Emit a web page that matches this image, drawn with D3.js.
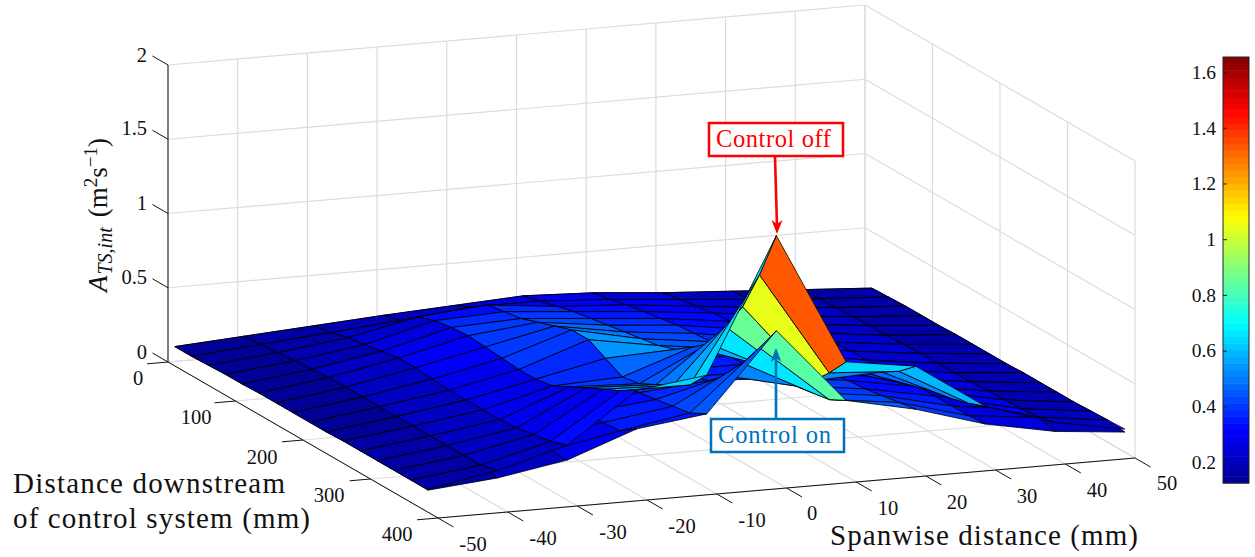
<!DOCTYPE html>
<html>
<head>
<meta charset="utf-8">
<script src="https://cdn.jsdelivr.net/npm/d3@7"></script>
<style>
  html, body { margin: 0; padding: 0; background: #fff; }
  svg { display: block; }
  text { font-family: "Liberation Serif", serif; fill: #111; }
  .grid { stroke: #dcdcdc; stroke-width: 1.2; fill: none; }
  .axis { stroke: #111; stroke-width: 1; fill: none; }
  .tick-label { font-size: 20.5px; text-anchor: middle; }
</style>
</head>
<body>
<svg width="1255" height="557"></svg>
<script>
var spanwise = [-50, -40, -30, -20, -10, 0, 10, 20, 30, 40, 50];
var downstream = [10, 35, 60, 85, 110, 135, 160, 185, 210, 235, 260, 285, 310, 335, 360, 385];

var xTicks = [-50, -40, -30, -20, -10, 0, 10, 20, 30, 40, 50];
var yTicks = [0, 100, 200, 300, 400];
var zTicks = [0, 0.5, 1, 1.5, 2];
var zTickLabels = ["0", "0.5", "1", "1.5", "2"];
var colorTicks = [0.2, 0.4, 0.6, 0.8, 1, 1.2, 1.4, 1.6];

// rows run along downstream, columns along spanwise
var controlOff = [
  [.13, .16, .19, .22, .245, .27, .25, .21, .18, .15, .12],
  [.13, .17, .21, .25, .30, .30, .27, .23, .19, .155, .125],
  [.135, .18, .24, .34, .38, .33, .30, .25, .20, .16, .13],
  [.14, .19, .26, .38, .40, .36, .32, .27, .21, .165, .13],
  [.14, .20, .28, .40, .42, .38, .34, .28, .22, .17, .13],
  [.145, .21, .30, .41, .46, .40, .36, .29, .225, .17, .135],
  [.145, .21, .30, .40, .50, .42, .37, .30, .23, .175, .135],
  [.145, .21, .29, .39, .54, .44, .38, .31, .235, .18, .135],
  [.145, .21, .28, .38, .54, .46, .40, .32, .24, .18, .135],
  [.145, .21, .28, .38, .48, .50, .42, .33, .245, .18, .14],
  [.15, .21, .28, .40, .42, .58, .42, .35, .25, .185, .14],
  [.15, .21, .28, .46, .44, .67, .44, .40, .26, .19, .14],
  [.15, .21, .29, .52, .50, .85, .46, .46, .29, .195, .14],
  [.15, .21, .31, .575, .56, 1.05, .51, .53, .31, .20, .145],
  [.15, .21, .33, .63, .63, 1.33, .63, .60, .345, .21, .15],
  [.155, .24, .37, .70, .76, 1.66, .77, .70, .39, .24, .155]
];

var controlOn = [
  [.13, .16, .19, .22, .245, .27, .25, .21, .18, .15, .12],
  [.13, .17, .21, .25, .30, .30, .27, .23, .19, .155, .125],
  [.135, .18, .24, .26, .30, .30, .28, .235, .20, .16, .13],
  [.14, .19, .26, .28, .32, .32, .30, .25, .21, .165, .13],
  [.14, .20, .28, .30, .33, .32, .31, .26, .22, .17, .13],
  [.145, .21, .30, .32, .34, .33, .32, .27, .225, .17, .135],
  [.145, .21, .30, .33, .35, .34, .33, .28, .23, .175, .135],
  [.145, .21, .29, .33, .36, .35, .34, .29, .235, .18, .135],
  [.145, .21, .28, .33, .36, .35, .35, .30, .24, .18, .135],
  [.145, .21, .28, .33, .36, .36, .36, .31, .245, .18, .14],
  [.15, .21, .28, .33, .37, .38, .38, .32, .25, .185, .14],
  [.15, .21, .27, .34, .38, .42, .40, .34, .26, .19, .14],
  [.15, .21, .28, .35, .40, .52, .41, .35, .26, .195, .14],
  [.15, .21, .28, .35, .42, .67, .43, .37, .26, .20, .145],
  [.15, .21, .27, .36, .44, .84, .45, .39, .26, .21, .15],
  [.148, .19, .27, .44, .50, 1.02, .51, .41, .27, .18, .135]
];

var svg = d3.select("svg");

// orthographic view: each data axis adds a fixed screen offset
var xToH = d3.scaleLinear().domain([-50, 50]).range([0, 697]),
    xToV = d3.scaleLinear().domain([-50, 50]).range([0, -60]),
    yToH = d3.scaleLinear().domain([0, 400]).range([0, 270]),
    yToV = d3.scaleLinear().domain([0, 400]).range([0, 156]),
    zToV = d3.scaleLinear().domain([0, 2]).range([0, -297]);

function project(x, y, z) {
  return [168 + xToH(x) + yToH(y), 362 + xToV(x) + yToV(y) + zToV(z)];
}

function segment(a, b) {
  return d3.line()([a, b]);
}

// jet colormap cut into 64 levels, same as the figure
var jetStops = d3.scaleLinear()
    .domain([0, 0.125, 0.375, 0.625, 0.875, 1])
    .range(["#00008f", "#0000ff", "#00ffff", "#ffff00", "#ff0000", "#800000"]);
var colorLimits = [0.125, 1.654];
var levels = d3.range(64).map(function(i) { return jetStops((i + 0.5) / 64); });
var color = d3.scaleQuantize().domain(colorLimits).range(levels);

// back walls and floor grid
var grid = svg.append("g").attr("class", "grid");
xTicks.forEach(function(x) {
  grid.append("path").attr("d", segment(project(x, 0, 0), project(x, 400, 0)));
  grid.append("path").attr("d", segment(project(x, 0, 0), project(x, 0, 2)));
});
yTicks.forEach(function(y) {
  grid.append("path").attr("d", segment(project(-50, y, 0), project(50, y, 0)));
  grid.append("path").attr("d", segment(project(50, y, 0), project(50, y, 2)));
});
zTicks.forEach(function(z) {
  grid.append("path").attr("d", segment(project(-50, 0, z), project(50, 0, z)));
  grid.append("path").attr("d", segment(project(50, 0, z), project(50, 400, z)));
});

// axis lines with ticks
var axes = svg.append("g").attr("class", "axis");
axes.append("path").attr("d", segment(project(-50, 0, 0), project(-50, 400, 0)));
axes.append("path").attr("d", segment(project(-50, 400, 0), project(50, 400, 0)));
axes.append("path").attr("d", segment(project(-50, 0, 0), project(-50, 0, 2)));

xTicks.forEach(function(x) {
  axes.append("path").attr("d", segment(project(x, 400, 0), project(x, 423, 0)));
});
yTicks.forEach(function(y) {
  axes.append("path").attr("d", segment(project(-50, y, 0), project(-53, y, 0)));
});
zTicks.forEach(function(z) {
  axes.append("path").attr("d", segment(project(-50, 0, z), project(-50, -23, z)));
});

var xLabelSpots = [[473, 544], [543, 538], [613, 532], [682, 526], [752, 520], [812, 513], [888, 508], [957, 502], [1027, 496], [1097, 490], [1167, 483]];
var yLabelSpots = [[138, 378], [196, 417], [262, 457], [329, 495], [397, 534]];
var zLabelSpots = [[147, 352], [147, 277], [147, 203], [147, 128], [147, 55]];

xTicks.forEach(function(x, i) {
  svg.append("text").attr("class", "tick-label").attr("x", xLabelSpots[i][0]).attr("y", xLabelSpots[i][1])
      .attr("dy", "0.35em").text(x);
});
yTicks.forEach(function(y, i) {
  svg.append("text").attr("class", "tick-label").attr("x", yLabelSpots[i][0]).attr("y", yLabelSpots[i][1])
      .attr("dy", "0.35em").text(y);
});
zTickLabels.forEach(function(s, i) {
  svg.append("text").attr("class", "tick-label").attr("x", zLabelSpots[i][0]).attr("y", zLabelSpots[i][1])
      .attr("dy", "0.35em").style("text-anchor", "end").text(s);
});

// surfaces: paint cells from the back row forward, far side first,
// the lower sheet of a cell before the upper one
var cells = svg.append("g").attr("class", "surface");

function addCell(matrix, r, c) {
  var corners = [[r, c], [r, c + 1], [r + 1, c + 1], [r + 1, c]].map(function(p) {
    return project(spanwise[p[1]], downstream[p[0]], matrix[p[0]][p[1]]);
  });
  cells.append("path")
      .attr("d", d3.line()(corners) + "Z")
      .attr("fill", color(matrix[r][c]))
      .attr("stroke", "#000")
      .attr("stroke-width", 0.8)
      .attr("stroke-linejoin", "round");
}

function cellMean(matrix, r, c) {
  return d3.mean([matrix[r][c], matrix[r][c + 1], matrix[r + 1][c], matrix[r + 1][c + 1]]);
}

for (var r = 0; r < downstream.length - 1; r++) {
  for (var c = spanwise.length - 2; c >= 0; c--) {
    if (cellMean(controlOff, r, c) < cellMean(controlOn, r, c)) {
      addCell(controlOff, r, c);
      addCell(controlOn, r, c);
    } else {
      addCell(controlOn, r, c);
      addCell(controlOff, r, c);
    }
  }
}

// colorbar
var cbY = d3.scaleLinear().domain(colorLimits).range([483, 57]);
var cb = svg.append("g");
levels.forEach(function(col, i) {
  var lo = colorLimits[0] + (colorLimits[1] - colorLimits[0]) * i / 64,
      hi = colorLimits[0] + (colorLimits[1] - colorLimits[0]) * (i + 1) / 64;
  cb.append("rect")
      .attr("x", 1223).attr("width", 26)
      .attr("y", cbY(hi)).attr("height", cbY(lo) - cbY(hi) + 0.5)
      .attr("fill", col);
});
cb.append("rect").attr("x", 1223).attr("y", 57).attr("width", 26).attr("height", 426)
    .attr("fill", "none").attr("stroke", "#222").attr("stroke-width", 1);
var cbAxis = cb.append("g").attr("transform", "translate(1223,0)")
    .call(d3.axisLeft(cbY).tickValues(colorTicks).tickSizeInner(-4).tickSizeOuter(0)
      .tickPadding(7).tickFormat(function(d) { return d; }));
cbAxis.select(".domain").remove();
cbAxis.selectAll("text").style("font-family", '"Liberation Serif", serif').style("font-size", "19.5px").attr("fill", "#111");
cbAxis.selectAll("line").attr("stroke", "#222");

// axis titles
function title(s, x, y, len) {
  svg.append("text").attr("x", x).attr("y", y).attr("textLength", len).attr("lengthAdjust", "spacing")
      .style("font-size", "29px").text(s);
}
title("Distance downstream", 13, 493, 272);
title("of control system (mm)", 13, 528, 297);
title("Spanwise distance (mm)", 830, 545, 308);

var zTitle = svg.append("text")
    .attr("transform", "translate(107,292) rotate(-90)")
    .style("font-size", "27px");
zTitle.append("tspan").style("font-style", "italic").text("A");
zTitle.append("tspan").style("font-style", "italic").style("font-size", "20px").attr("dy", 5).attr("dx", 1).text("TS,int");
zTitle.append("tspan").attr("dy", -5).attr("dx", 10).text("(m");
zTitle.append("tspan").style("font-size", "19px").attr("dy", -10).text("2");
zTitle.append("tspan").attr("dy", 10).text("s");
zTitle.append("tspan").style("font-size", "19px").attr("dy", -10).text("\u22121");
zTitle.append("tspan").attr("dy", 10).text(")");

// annotations
function callout(label, col, box, tail, tip, len) {
  svg.append("rect").attr("x", box[0]).attr("y", box[1]).attr("width", box[2]).attr("height", box[3])
      .attr("fill", "#fff").attr("stroke", col).attr("stroke-width", 2.5);
  svg.append("text").attr("x", box[0] + 7).attr("y", box[1] + 24).attr("textLength", len).attr("lengthAdjust", "spacing")
      .style("font-size", "24.5px").style("fill", col).text(label);
  var dir = tip[1] > tail[1] ? 1 : -1;
  svg.append("path").attr("d", segment(tail, [tip[0], tip[1] - dir * 8]))
      .attr("stroke", col).attr("stroke-width", 2.6).attr("fill", "none");
  svg.append("path").attr("fill", col)
      .attr("d", d3.line()([tip, [tip[0] - 5.5, tip[1] - dir * 14], [tip[0], tip[1] - dir * 10], [tip[0] + 5.5, tip[1] - dir * 14]]) + "Z");
}
callout("Control off", "#ff0000", [709, 123, 134, 33], [775, 157], [777, 234], 115);
callout("Control on", "#0072bd", [711, 419, 133, 33], [776, 418], [776, 348], 113);
</script>
</body>
</html>
